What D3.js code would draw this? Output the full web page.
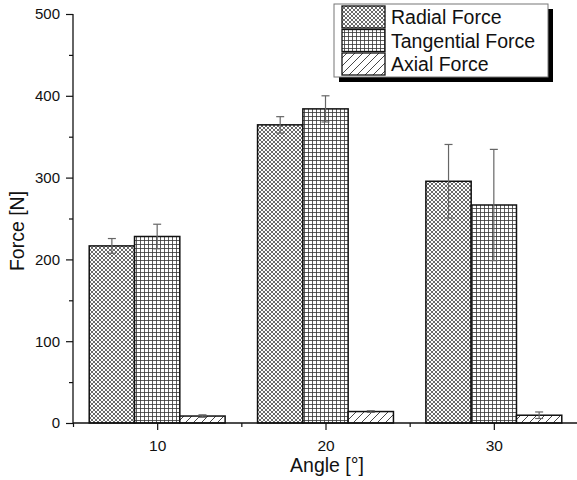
<!DOCTYPE html>
<html><head><meta charset="utf-8">
<script src="https://cdn.jsdelivr.net/npm/d3@7"></script>
<style>body{margin:0;background:#fff}svg{display:block}text{font-family:"Liberation Sans",Arial,sans-serif}</style>
</head><body><svg id="c" width="577" height="480"></svg>
<script>
const categories = [10, 20, 30];
const seriesNames = ["Radial Force", "Tangential Force", "Axial Force"];
const radial = [216.5, 364.5, 295.5];
const radialErr = [9, 10, 45];
const tangential = [228, 384, 266.5];
const tangentialErr = [15, 16, 68];
const axial = [8.5, 14, 9.5];
const axialErr = [1.5, 1, 4];
const yTicks = [0, 100, 200, 300, 400, 500];
const series = [
  {name: seriesNames[0], values: radial, errs: radialErr, pat: "pRad"},
  {name: seriesNames[1], values: tangential, errs: tangentialErr, pat: "pTan"},
  {name: seriesNames[2], values: axial, errs: axialErr, pat: "pAx"}
];
const FF = "'Liberation Sans', Arial, sans-serif";

const svg = d3.select("#c");
const defs = svg.append("defs");
const p1 = defs.append("pattern").attr("id","pRad").attr("patternUnits","userSpaceOnUse").attr("width",4).attr("height",4);
p1.append("rect").attr("width",4).attr("height",4).attr("fill","#fff");
p1.append("path").attr("d","M0,0L4,4M4,0L0,4").attr("stroke","#3a3a3a").attr("stroke-width",0.75);
const p2 = defs.append("pattern").attr("id","pTan").attr("patternUnits","userSpaceOnUse").attr("width",4).attr("height",4);
p2.append("rect").attr("width",4).attr("height",4).attr("fill","#fff");
p2.append("path").attr("d","M0,0.5H4M0.5,0V4").attr("stroke","#333").attr("stroke-width",0.8);
const p3 = defs.append("pattern").attr("id","pAx").attr("patternUnits","userSpaceOnUse").attr("width",8).attr("height",8);
p3.append("rect").attr("width",8).attr("height",8).attr("fill","#fff");
p3.append("path").attr("d","M0,8L8,0M-2,2L2,-2M6,10L10,6").attr("stroke","#333").attr("stroke-width",0.9);

const x = d3.scaleLinear().domain([5, 35]).range([73, 578]);
const y = d3.scaleLinear().domain([0, 500]).range([423, 14]);
const barW = 45.3;

series.forEach((s, si) => {
  const g = svg.append("g");
  categories.forEach((c, ci) => {
    const x0 = x(c) - 1.5 * barW + si * barW;
    g.append("rect").attr("x", x0).attr("y", y(s.values[ci]))
      .attr("width", barW).attr("height", y(0) - y(s.values[ci]))
      .attr("fill", `url(#${s.pat})`).attr("stroke", "#111").attr("stroke-width", 1.5);
    const cx = x0 + barW / 2;
    const top = y(s.values[ci] + s.errs[ci]), bot = y(s.values[ci] - s.errs[ci]);
    g.append("line").attr("x1", cx).attr("x2", cx).attr("y1", top).attr("y2", bot).attr("stroke","#666").attr("stroke-width",1.2);
    g.append("line").attr("x1", cx-4).attr("x2", cx+4).attr("y1", top).attr("y2", top).attr("stroke","#666").attr("stroke-width",1.2);
    g.append("line").attr("x1", cx-4).attr("x2", cx+4).attr("y1", bot).attr("y2", bot).attr("stroke","#666").attr("stroke-width",1.2);
  });
});

const gy = svg.append("g").attr("transform","translate(73,0)").call(d3.axisLeft(y).tickValues(yTicks).tickSize(7).tickPadding(6));
gy.select(".domain").attr("stroke","#111").attr("stroke-width",1.3).attr("d", `M0,${y(500)}V${y(0)}`);
gy.selectAll(".tick line").attr("stroke","#111").attr("stroke-width",1.2);
gy.selectAll("text").attr("font-size",15).attr("fill","#111").style("font-family",FF);
const gym = svg.append("g").attr("transform","translate(73,0)").call(d3.axisLeft(y).tickValues([50,150,250,350,450]).tickSize(4).tickFormat(""));
gym.select(".domain").remove();
gym.selectAll(".tick line").attr("stroke","#111").attr("stroke-width",1.2);

const gx = svg.append("g").attr("transform",`translate(0,${y(0)})`).call(d3.axisBottom(x).tickValues(categories).tickSize(7).tickPadding(10));
gx.select(".domain").attr("stroke","#111").attr("stroke-width",1.3).attr("d","M73,0H578");
gx.selectAll(".tick line").attr("stroke","#111").attr("stroke-width",1.2);
gx.selectAll("text").attr("font-size",15.5).attr("fill","#111").style("font-family",FF);
const gxm = svg.append("g").attr("transform",`translate(0,${y(0)})`).call(d3.axisBottom(x).tickValues([5,15,25]).tickSize(4).tickFormat(""));
gxm.select(".domain").remove();
gxm.selectAll(".tick line").attr("stroke","#111").attr("stroke-width",1.2);

svg.append("text").attr("x", 327).attr("y", 472).attr("text-anchor","middle").attr("font-size",19.5).attr("fill","#111").text("Angle [°]");
svg.append("text").attr("transform","translate(24,231) rotate(-90)").attr("text-anchor","middle").attr("font-size",19.5).attr("fill","#111").text("Force [N]");

const lg = svg.append("g");
lg.append("rect").attr("x",339).attr("y",9).attr("width",214).attr("height",73).attr("fill","#000");
lg.append("rect").attr("x",334).attr("y",4).attr("width",214).attr("height",73).attr("fill","#fff").attr("stroke","#777").attr("stroke-width",1);
series.forEach((s, i) => {
  const yy = 6 + i * 23.5;
  lg.append("rect").attr("x",342).attr("y",yy).attr("width",43).attr("height",22)
    .attr("fill",`url(#${s.pat})`).attr("stroke","#111").attr("stroke-width",1.3);
  lg.append("text").attr("x",391).attr("y",yy+18).attr("font-size",19.5).attr("fill","#111").text(s.name);
});
</script></body></html>
